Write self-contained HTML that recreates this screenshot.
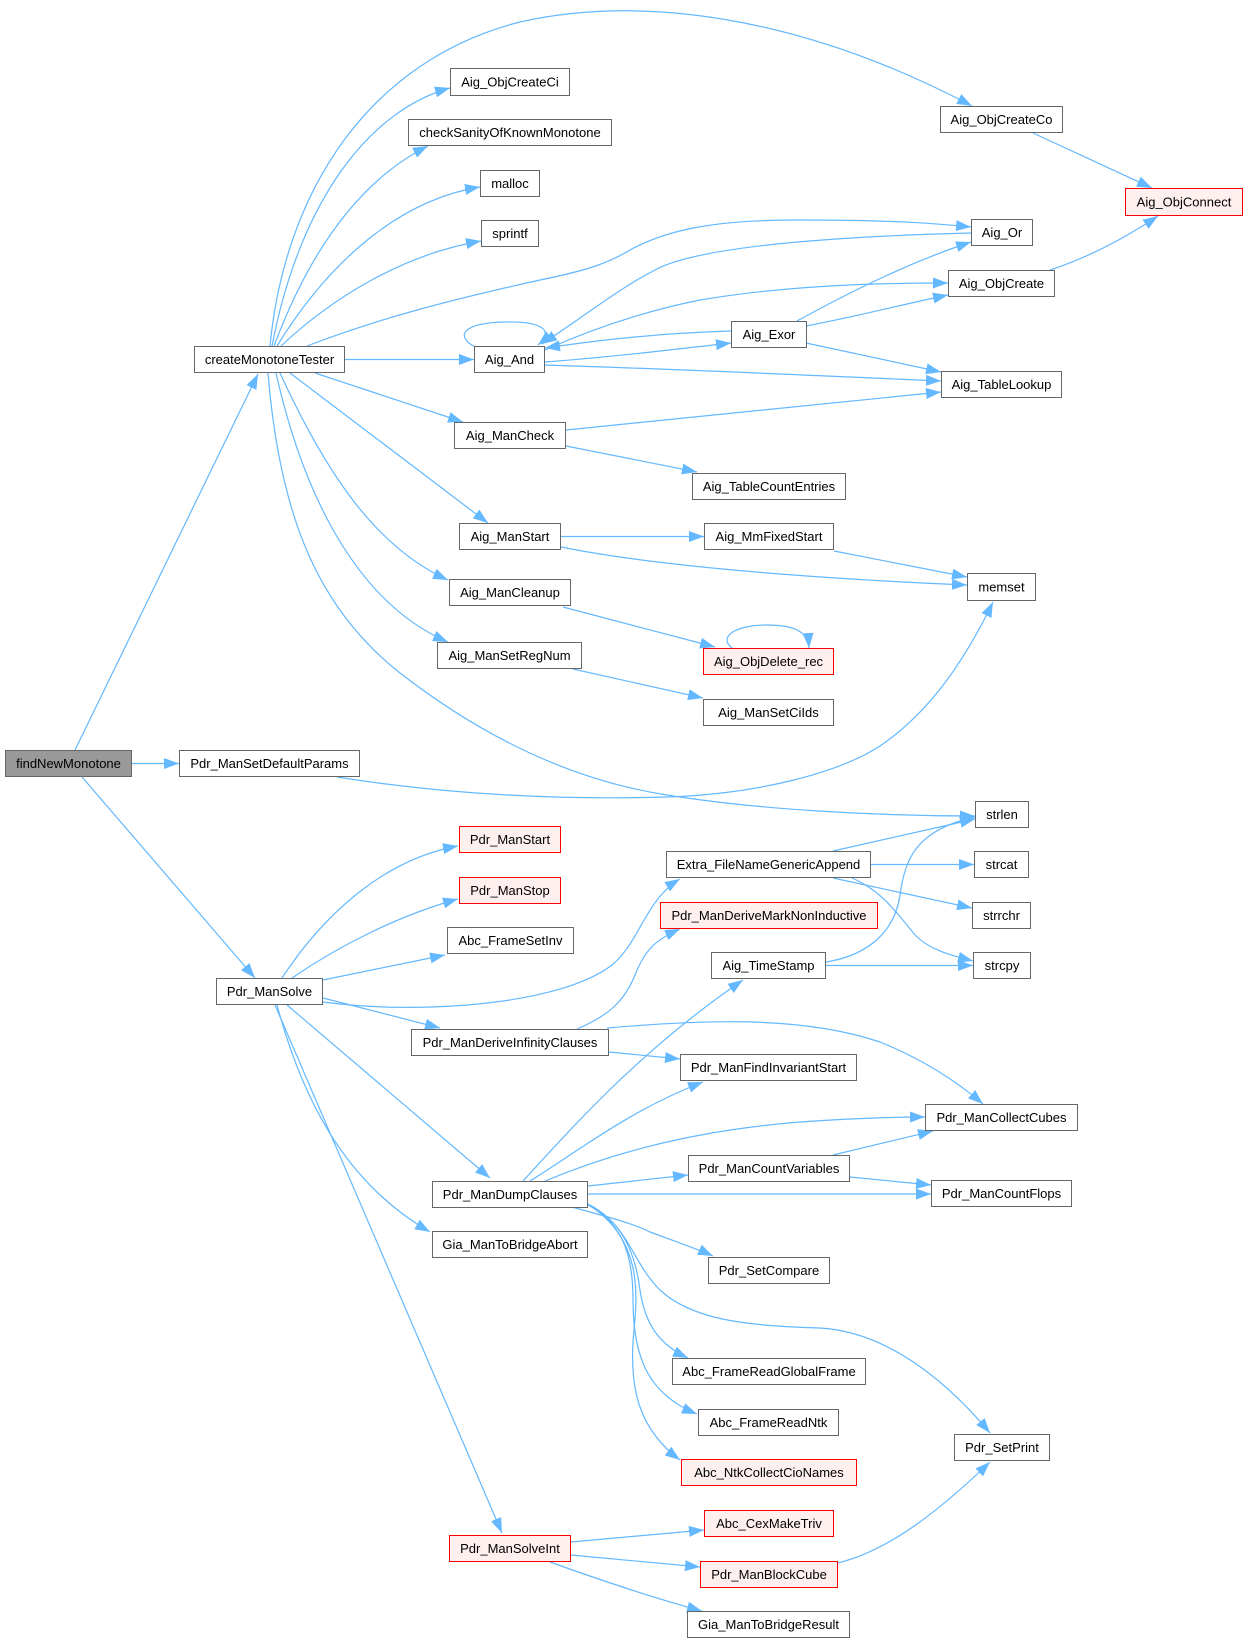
<!DOCTYPE html>
<html><head><meta charset="utf-8"><style>
html,body{margin:0;padding:0;background:#fff;}
svg{display:block;}
text{font-family:"Liberation Sans",Arial,sans-serif;font-size:13px;fill:#000;text-anchor:middle;}
.n{fill:#fff;stroke:#666;stroke-width:1;}
.r{fill:#fff0f0;stroke:#ff0000;stroke-width:1;}
.g{fill:#999;stroke:#666;stroke-width:1;}
.e{fill:none;stroke:#63b8ff;stroke-width:1.2;marker-end:url(#a);}
</style></head><body>
<svg width="1248" height="1643" viewBox="0 0 1248 1643" xmlns="http://www.w3.org/2000/svg">
<defs>
<marker id="a" viewBox="0 0 15 11" refX="15" refY="5.5" markerWidth="15" markerHeight="11" orient="auto" markerUnits="userSpaceOnUse">
<path d="M0,0 L15,5.5 L0,11 z" fill="#63b8ff"/>
</marker>
</defs>
<g>
<path class="e" d="M75,750 L258,374"/>
<path class="e" d="M132,763.5 L179,763.5"/>
<path class="e" d="M82,777 L255,978"/>
<path class="e" d="M337,777 C 450,795 560,800 667,797 C 760,794 840,772 880,746 C 930,712 965,660 993,602"/>
<path class="e" d="M270,346 C 285,190 370,60 520,22 C 640,-5 800,15 972,106"/>
<path class="e" d="M272,346 C 300,200 370,110 450,88"/>
<path class="e" d="M274,346 C 310,250 360,180 428,146"/>
<path class="e" d="M277,346 C 330,260 400,200 480,187"/>
<path class="e" d="M281,346 C 330,300 400,255 481,241"/>
<path class="e" d="M307,346 C 380,318 450,300 540,280 C 590,270 610,262 630,250 C 670,228 720,220 800,220 C 900,220 940,224 971,227"/>
<path class="e" d="M345,359.5 L474,359.5"/>
<path class="e" d="M315,373 L463,422"/>
<path class="e" d="M290,373 L488,523"/>
<path class="e" d="M280,373 C 320,460 370,545 448,580"/>
<path class="e" d="M276,373 C 300,480 350,600 448,642"/>
<path class="e" d="M268,373 C 280,520 320,610 400,673 C 480,735 570,780 667,795 C 760,810 880,816 975,816"/>
<path class="e" d="M475,347 C 455,336 462,323 505,322 C 540,321 556,330 538,345"/>
<path class="e" d="M545,350 C 590,330 640,312 700,300 C 790,285 880,283 948,283"/>
<path class="e" d="M545,362 C 610,357 670,350 731,343"/>
<path class="e" d="M545,365 C 700,370 850,377 941,381"/>
<path class="e" d="M971,233 C 850,236 700,245 655,270 C 620,288 590,312 542,344"/>
<path class="e" d="M732,331 C 660,333 600,340 545,348"/>
<path class="e" d="M797,321 C 850,292 910,262 971,242"/>
<path class="e" d="M806,326 C 850,318 900,305 948,295"/>
<path class="e" d="M806,343 L941,372"/>
<path class="e" d="M1050,270 C 1090,257 1125,238 1158,216"/>
<path class="e" d="M1033,133 L1152,188"/>
<path class="e" d="M566,430 L941,392"/>
<path class="e" d="M566,446 L697,472"/>
<path class="e" d="M561,536.5 L704,536.5"/>
<path class="e" d="M561,547 C 650,565 800,578 967,585"/>
<path class="e" d="M834,551 L967,577"/>
<path class="e" d="M563,607 L715,647"/>
<path class="e" d="M732,648 C 718,637 735,625 767,625 C 795,625 808,632 809,648"/>
<path class="e" d="M573,669 L703,698"/>
<path class="e" d="M282,978 C 320,920 380,860 458,846"/>
<path class="e" d="M292,978 C 340,945 400,915 458,899"/>
<path class="e" d="M323,980 L445,955"/>
<path class="e" d="M323,1002 C 420,1015 560,1005 612,965 C 640,942 645,900 680,879"/>
<path class="e" d="M323,998 L440,1028"/>
<path class="e" d="M287,1005 L490,1178"/>
<path class="e" d="M277,1005 C 300,1090 340,1180 430,1232"/>
<path class="e" d="M275,1005 L502,1533"/>
<path class="e" d="M577,1029 C 610,1015 625,1000 635,975 C 645,950 655,940 680,929"/>
<path class="e" d="M607,1028 C 700,1020 800,1015 880,1042 C 920,1058 955,1080 983,1104"/>
<path class="e" d="M609,1052 L680,1059"/>
<path class="e" d="M833,851 L975,819"/>
<path class="e" d="M871,864.5 L974,864.5"/>
<path class="e" d="M833,878 L972,908"/>
<path class="e" d="M852,878 C 880,890 895,910 915,935 C 930,950 950,955 973,961"/>
<path class="e" d="M826,965.5 L973,965.5"/>
<path class="e" d="M826,962 C 870,955 895,930 900,895 C 905,860 915,830 975,817"/>
<path class="e" d="M523,1181 C 570,1130 640,1050 743,980"/>
<path class="e" d="M530,1181 C 580,1150 630,1110 703,1082"/>
<path class="e" d="M545,1181 C 620,1150 700,1130 800,1122 C 860,1118 900,1117 925,1117"/>
<path class="e" d="M588,1186 L688,1175"/>
<path class="e" d="M588,1194 L931,1194"/>
<path class="e" d="M572,1207 C 600,1215 630,1222 650,1232 C 680,1243 700,1250 713,1256"/>
<path class="e" d="M588,1204 C 620,1220 635,1250 640,1290 C 645,1325 660,1345 688,1358"/>
<path class="e" d="M590,1206 C 625,1225 633,1260 633,1300 C 633,1360 650,1395 697,1414"/>
<path class="e" d="M592,1207 C 640,1240 638,1290 634,1330 C 628,1390 640,1430 680,1460"/>
<path class="e" d="M588,1205 C 630,1225 630,1260 660,1290 C 690,1318 740,1326 820,1328 C 890,1332 950,1385 990,1433"/>
<path class="e" d="M833,1155 L933,1131"/>
<path class="e" d="M850,1177 L931,1185"/>
<path class="e" d="M571,1542 L704,1530"/>
<path class="e" d="M571,1555 L700,1567"/>
<path class="e" d="M550,1562 C 600,1580 650,1597 702,1611"/>
<path class="e" d="M838,1563 C 890,1550 940,1510 990,1462"/>
</g>
<g>
<rect class="g" x="5.5" y="750.5" width="126" height="26"/><text x="68.5" y="768">findNewMonotone</text>
<rect class="n" x="194.5" y="346.5" width="150" height="26"/><text x="269.5" y="364">createMonotoneTester</text>
<rect class="n" x="179.5" y="750.5" width="180" height="26"/><text x="269.5" y="768">Pdr_ManSetDefaultParams</text>
<rect class="n" x="216.5" y="978.5" width="106" height="26"/><text x="269.5" y="996">Pdr_ManSolve</text>
<rect class="n" x="450.5" y="68.5" width="119" height="27"/><text x="510" y="86.5">Aig_ObjCreateCi</text>
<rect class="n" x="408.5" y="119.5" width="203" height="26"/><text x="510" y="137">checkSanityOfKnownMonotone</text>
<rect class="n" x="480.5" y="170.5" width="59" height="26"/><text x="510" y="188">malloc</text>
<rect class="n" x="481.5" y="220.5" width="57" height="26"/><text x="510" y="238">sprintf</text>
<rect class="n" x="474.5" y="346.5" width="70" height="26"/><text x="509.5" y="364">Aig_And</text>
<rect class="n" x="940.5" y="106.5" width="122" height="26"/><text x="1001.5" y="124">Aig_ObjCreateCo</text>
<rect class="r" x="1125.5" y="188.5" width="117" height="27"/><text x="1184" y="206.5">Aig_ObjConnect</text>
<rect class="n" x="971.5" y="219.5" width="61" height="26"/><text x="1002" y="237">Aig_Or</text>
<rect class="n" x="948.5" y="270.5" width="106" height="26"/><text x="1001.5" y="288">Aig_ObjCreate</text>
<rect class="n" x="731.5" y="321.5" width="75" height="26"/><text x="769" y="339">Aig_Exor</text>
<rect class="n" x="941.5" y="371.5" width="120" height="26"/><text x="1001.5" y="389">Aig_TableLookup</text>
<rect class="n" x="454.5" y="422.5" width="111" height="26"/><text x="510" y="440">Aig_ManCheck</text>
<rect class="n" x="692.5" y="473.5" width="153" height="26"/><text x="769" y="491">Aig_TableCountEntries</text>
<rect class="n" x="459.5" y="523.5" width="101" height="26"/><text x="510" y="541">Aig_ManStart</text>
<rect class="n" x="704.5" y="523.5" width="129" height="26"/><text x="769" y="541">Aig_MmFixedStart</text>
<rect class="n" x="967.5" y="573.5" width="68" height="27"/><text x="1001.5" y="591.5">memset</text>
<rect class="n" x="449.5" y="579.5" width="121" height="26"/><text x="510" y="597">Aig_ManCleanup</text>
<rect class="r" x="703.5" y="648.5" width="130" height="26"/><text x="768.5" y="666">Aig_ObjDelete_rec</text>
<rect class="n" x="437.5" y="642.5" width="144" height="26"/><text x="509.5" y="660">Aig_ManSetRegNum</text>
<rect class="n" x="703.5" y="699.5" width="130" height="26"/><text x="768.5" y="717">Aig_ManSetCiIds</text>
<rect class="n" x="975.5" y="801.5" width="53" height="26"/><text x="1002" y="819">strlen</text>
<rect class="r" x="459.5" y="826.5" width="101" height="26"/><text x="510" y="844">Pdr_ManStart</text>
<rect class="n" x="666.5" y="851.5" width="204" height="26"/><text x="768.5" y="869">Extra_FileNameGenericAppend</text>
<rect class="n" x="974.5" y="851.5" width="54" height="26"/><text x="1001.5" y="869">strcat</text>
<rect class="r" x="459.5" y="877.5" width="101" height="26"/><text x="510" y="895">Pdr_ManStop</text>
<rect class="r" x="660.5" y="902.5" width="217" height="26"/><text x="769" y="920">Pdr_ManDeriveMarkNonInductive</text>
<rect class="n" x="972.5" y="902.5" width="58" height="26"/><text x="1001.5" y="920">strrchr</text>
<rect class="n" x="447.5" y="927.5" width="126" height="26"/><text x="510.5" y="945">Abc_FrameSetInv</text>
<rect class="n" x="711.5" y="952.5" width="114" height="26"/><text x="768.5" y="970">Aig_TimeStamp</text>
<rect class="n" x="973.5" y="952.5" width="57" height="26"/><text x="1002" y="970">strcpy</text>
<rect class="n" x="411.5" y="1029.5" width="197" height="26"/><text x="510" y="1047">Pdr_ManDeriveInfinityClauses</text>
<rect class="n" x="680.5" y="1054.5" width="176" height="26"/><text x="768.5" y="1072">Pdr_ManFindInvariantStart</text>
<rect class="n" x="925.5" y="1104.5" width="152" height="26"/><text x="1001.5" y="1122">Pdr_ManCollectCubes</text>
<rect class="n" x="688.5" y="1155.5" width="161" height="26"/><text x="769" y="1173">Pdr_ManCountVariables</text>
<rect class="n" x="432.5" y="1181.5" width="155" height="26"/><text x="510" y="1199">Pdr_ManDumpClauses</text>
<rect class="n" x="931.5" y="1180.5" width="140" height="26"/><text x="1001.5" y="1198">Pdr_ManCountFlops</text>
<rect class="n" x="432.5" y="1231.5" width="155" height="26"/><text x="510" y="1249">Gia_ManToBridgeAbort</text>
<rect class="n" x="708.5" y="1257.5" width="121" height="26"/><text x="769" y="1275">Pdr_SetCompare</text>
<rect class="n" x="672.5" y="1358.5" width="193" height="26"/><text x="769" y="1376">Abc_FrameReadGlobalFrame</text>
<rect class="n" x="698.5" y="1409.5" width="140" height="26"/><text x="768.5" y="1427">Abc_FrameReadNtk</text>
<rect class="n" x="954.5" y="1434.5" width="95" height="26"/><text x="1002" y="1452">Pdr_SetPrint</text>
<rect class="r" x="681.5" y="1459.5" width="175" height="26"/><text x="769" y="1477">Abc_NtkCollectCioNames</text>
<rect class="r" x="704.5" y="1510.5" width="129" height="26"/><text x="769" y="1528">Abc_CexMakeTriv</text>
<rect class="r" x="449.5" y="1535.5" width="121" height="26"/><text x="510" y="1553">Pdr_ManSolveInt</text>
<rect class="r" x="700.5" y="1561.5" width="137" height="26"/><text x="769" y="1579">Pdr_ManBlockCube</text>
<rect class="n" x="687.5" y="1611.5" width="162" height="26"/><text x="768.5" y="1629">Gia_ManToBridgeResult</text>
</g>
</svg>
</body></html>
